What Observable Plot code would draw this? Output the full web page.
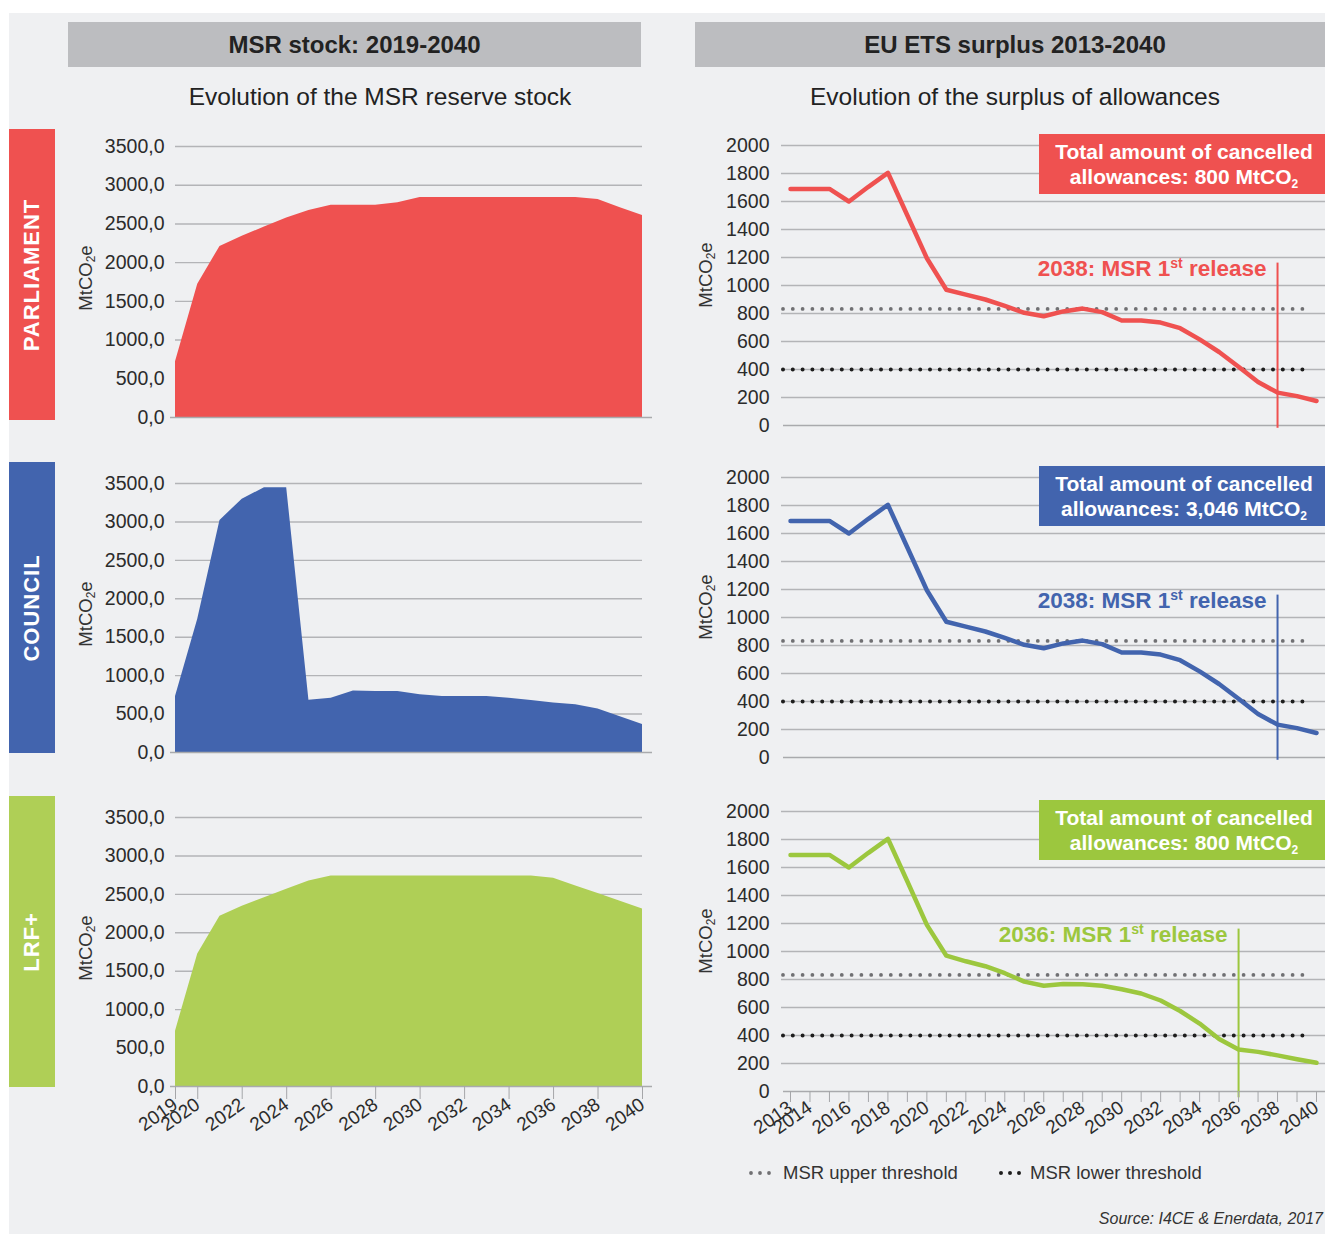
<!DOCTYPE html>
<html><head><meta charset="utf-8">
<script src="https://cdn.jsdelivr.net/npm/d3@7"></script>
<script src="https://cdn.jsdelivr.net/npm/@observablehq/plot@0.6"></script>
<style>
body{margin:0;background:#fff;font-family:"Liberation Sans",Arial,sans-serif;}
#wrap{position:relative;width:1325px;height:1234px;overflow:hidden;}
#bg{position:absolute;left:9px;top:13px;width:1330px;height:1230px;background:#eff0f2;}
.abs{position:absolute;}
.hdr{background:#bcbdc0;font-weight:bold;font-size:24px;color:#222;display:flex;align-items:center;justify-content:center;}
.sub{font-size:24.5px;color:#222;text-align:center;white-space:nowrap;}
.side{color:#fff;font-weight:bold;font-size:22px;letter-spacing:1px;}
.rot{position:absolute;transform:translate(-50%,-50%) rotate(-90deg);white-space:nowrap;}
.ylab{font-size:18.5px;color:#333;}
.box{color:#fff;font-weight:bold;font-size:21px;text-align:center;line-height:25px;display:flex;flex-direction:column;justify-content:center;white-space:nowrap;}
.box sub{font-size:12px;vertical-align:-4px;line-height:0;}
.ylab sub{font-size:12px;vertical-align:-3px;line-height:0;}
.legend{font-size:18.5px;color:#333;display:flex;align-items:center;white-space:nowrap;}
.src{font-size:16px;color:#333;font-style:italic;white-space:nowrap;}
</style></head>
<body><div id="wrap"><div id="bg"></div></div>
<script>
// ---------- data ----------
const stockYears = d3.range(2019, 2041);
const parliamentStock = [720,1720,2210,2340,2460,2575,2675,2740,2740,2740,2775,2840,2840,2840,2840,2840,2840,2840,2840,2815,2710,2610];
const councilStock    = [730,1735,3020,3295,3445,3445,680,705,800,795,795,750,730,730,730,705,675,645,620,565,465,365];
const lrfStock        = [720,1725,2215,2345,2455,2565,2675,2740,2740,2740,2740,2740,2740,2740,2740,2740,2740,2710,2610,2510,2410,2310];
const stockTicks = [0,500,1000,1500,2000,2500,3000,3500];
const stockXTicks = [2019,2020,2022,2024,2026,2028,2030,2032,2034,2036,2038,2040];

const surplusYears = d3.range(2013, 2041);
const parliamentSurplus = [1690,1690,1690,1600,1705,1805,1500,1195,970,935,900,855,805,780,815,835,810,750,750,735,695,615,525,420,310,235,210,175];
const councilSurplus    = [1690,1690,1690,1600,1705,1805,1500,1195,970,935,900,855,805,780,815,835,810,750,750,735,695,615,525,420,310,235,210,175];
const lrfSurplus        = [1690,1690,1690,1600,1705,1805,1500,1190,970,930,895,845,785,755,768,766,755,730,700,650,575,485,375,300,283,258,230,205];
const surplusTicks = [0,200,400,600,800,1000,1200,1400,1600,1800,2000];
const surplusXLabels = [2013,2014,2016,2018,2020,2022,2024,2026,2028,2030,2032,2034,2036,2038,2040];

const upperThreshold = 833;
const lowerThreshold = 400;

const scenarios = ["PARLIAMENT","COUNCIL","LRF+"];
const releaseYears = [2038, 2038, 2036];
const cancelled = ["800","3,046","800"];

const areaColors = ["#ef5150","#4264ae","#afcf56"];
const lineColors = ["#ef5150","#4264ae","#9cc73e"];
const sideColors = ["#ef5150","#4264ae","#afcf56"];
const boxColors  = ["#ef5150","#4264ae","#9cc73e"];

// ---------- layout ----------
const fontFamily = '"Liberation Sans", Arial, sans-serif';
const wrap = document.getElementById("wrap");
function el(html){ const d=document.createElement("div"); d.innerHTML=html; const n=d.firstElementChild; wrap.appendChild(n); return n; }

el(`<div class="abs hdr" style="left:68px;top:22px;width:573px;height:45px">MSR stock: 2019-2040</div>`);
el(`<div class="abs hdr" style="left:695px;top:22px;width:640px;height:45px">EU ETS surplus 2013-2040</div>`);
el(`<div class="abs sub" style="left:160px;top:83px;width:440px">Evolution of the MSR reserve stock</div>`);
el(`<div class="abs sub" style="left:785px;top:83px;width:460px">Evolution of the surplus of allowances</div>`);

const leftTops = [130, 467, 801];
const leftPlotH = [271, 269, 269];
const rightTops = [130, 462, 796];
const sideTops = [129, 462, 796];

function addSup(svg){
  for (const t of svg.querySelectorAll("text")) {
    const s = t.textContent;
    if (!s.includes("1st")) continue;
    const [a,b] = s.split("1st");
    while (t.firstChild) t.removeChild(t.firstChild);
    const ns="http://www.w3.org/2000/svg";
    const t1=document.createElementNS(ns,"tspan"); t1.textContent=a+"1"; t.appendChild(t1);
    const t2=document.createElementNS(ns,"tspan"); t2.textContent="st"; t2.setAttribute("font-size","14"); t2.setAttribute("dy","-8"); t.appendChild(t2);
    const t3=document.createElementNS(ns,"tspan"); t3.textContent=b; t3.setAttribute("dy","8"); t.appendChild(t3);
  }
}

function leftPanel(i){
  const stock = [parliamentStock, councilStock, lrfStock][i];
  const data = stockYears.map((year,k)=>({year, value: stock[k]}));
  const showX = i === 2;
  const marginTop = 16, marginBottom = showX ? 75 : 12;
  const svg = Plot.plot({
    width: 665, height: marginTop + leftPlotH[i] + marginBottom,
    marginLeft: 175, marginRight: 23, marginTop, marginBottom,
    style: {background:"transparent", fontFamily, fontSize:"19px", color:"#2b2b2b", overflow:"visible"},
    x: {domain:[2019,2040], axis: showX ? undefined : null},
    y: {domain:[0,3500]},
    marks: [
      Plot.ruleY(stockTicks.filter(d=>d>0), {stroke:"#b3b4b7", strokeWidth:1.4}),
      Plot.areaY(data, {x:"year", y:"value", fill: areaColors[i]}),
      Plot.ruleY([0], {stroke:"#a9aaad", strokeWidth:1.6, insetLeft:-5, insetRight:-10}),
      Plot.axisY({ticks: stockTicks, tickSize:0, tickPadding:11, tickFormat: d=>d.toFixed(1).replace(".",","), label:null, fontSize:19.5}),
      ...(showX ? [Plot.axisX({ticks: stockXTicks, tickSize:13, tickPadding:3, tickRotate:-35, tickFormat: d=>String(d), label:null, stroke:"#a5a6a9", fontSize:19})] : [])
    ]
  });
  svg.style.position="absolute"; svg.style.left="0px"; svg.style.top=leftTops[i]+"px";
  wrap.appendChild(svg);
  const midY = leftTops[i] + marginTop + leftPlotH[i]/2 - 4;
  el(`<div class="abs ylab" style="left:86px;top:${midY}px"><div class="rot">MtCO<sub>2</sub>e</div></div>`);
}

function rightPanel(i){
  const surplus = [parliamentSurplus, councilSurplus, lrfSurplus][i];
  const data = surplusYears.map((year,k)=>({year, value: surplus[k]}));
  const showX = i === 2;
  const marginTop = 15, plotH = 280, marginBottom = showX ? 75 : 15;
  const rel = releaseYears[i];
  const svg = Plot.plot({
    width: 640, height: marginTop + plotH + marginBottom,
    marginLeft: 100, marginRight: 14, marginTop, marginBottom,
    style: {background:"transparent", fontFamily, fontSize:"19px", color:"#2b2b2b", overflow:"visible"},
    x: {domain:[2013,2040], axis: showX ? undefined : null},
    y: {domain:[0,2000]},
    marks: [
      Plot.ruleY(surplusTicks.filter(d=>d>0), {stroke:"#b3b4b7", strokeWidth:1.4, insetLeft:-9, insetRight:-14}),
      Plot.ruleY([0], {stroke:"#a9aaad", strokeWidth:1.6, insetLeft:-7, insetRight:-14}),
      Plot.ruleY([upperThreshold], {stroke:"#707073", strokeWidth:3.8, strokeDasharray:"0,9.8", strokeLinecap:"round", insetLeft:-7, insetRight:6}),
      Plot.ruleY([lowerThreshold], {stroke:"#1d1d1d", strokeWidth:4, strokeDasharray:"0,9.8", strokeLinecap:"round", insetLeft:-7, insetRight:6}),
      Plot.line(data, {x:"year", y:"value", stroke: lineColors[i], strokeWidth:4.5, strokeLinejoin:"round"}),
      Plot.ruleX([rel], {y1: showX ? -45 : -20, y2: 1160, stroke: lineColors[i], strokeWidth:2}),
      Plot.text([rel], {x: d=>d, y: 1120, text: d=>`${d}: MSR 1st release`, textAnchor:"end", dx:-11, fill: lineColors[i], fontWeight:"bold", fontSize:22.5}),
      Plot.axisY({ticks: surplusTicks, tickSize:0, tickPadding:21, tickFormat: d=>String(d), label:null, fontSize:19.5}),
      ...(showX ? [Plot.axisX({ticks: surplusYears, tickSize:11, tickPadding:3, tickRotate:-35, tickFormat: d=> surplusXLabels.includes(d) ? String(d) : "", label:null, stroke:"#a5a6a9", fontSize:19})] : [])
    ]
  });
  addSup(svg);
  svg.style.position="absolute"; svg.style.left="690px"; svg.style.top=rightTops[i]+"px";
  wrap.appendChild(svg);
  const midY = rightTops[i] + marginTop + plotH/2 - 10;
  el(`<div class="abs ylab" style="left:706px;top:${midY}px"><div class="rot">MtCO<sub>2</sub>e</div></div>`);
  el(`<div class="abs box" style="left:1039px;top:${rightTops[i]+4}px;width:290px;height:60px;background:${boxColors[i]}"><div>Total amount of cancelled</div><div>allowances: ${cancelled[i]} MtCO<sub>2</sub></div></div>`);
}

for (let i=0;i<3;i++){
  el(`<div class="abs side" style="left:9px;top:${sideTops[i]}px;width:46px;height:291px;background:${sideColors[i]}"><div class="rot" style="left:23px;top:146px">${scenarios[i]}</div></div>`);
  leftPanel(i);
  rightPanel(i);
}

// legend
el(`<div class="abs legend" style="left:748px;top:1162px"><svg width="28" height="10"><line x1="3" x2="26" y1="5" y2="5" stroke="#707073" stroke-width="3.8" stroke-dasharray="0,9" stroke-linecap="round"/></svg><span style="margin-left:7px">MSR upper threshold</span></div>`);
el(`<div class="abs legend" style="left:998px;top:1162px"><svg width="28" height="10"><line x1="3" x2="26" y1="5" y2="5" stroke="#1d1d1d" stroke-width="4" stroke-dasharray="0,9" stroke-linecap="round"/></svg><span style="margin-left:4px">MSR lower threshold</span></div>`);
el(`<div class="abs src" style="right:2px;top:1210px">Source: I4CE &amp; Enerdata, 2017</div>`);
</script></body></html>
